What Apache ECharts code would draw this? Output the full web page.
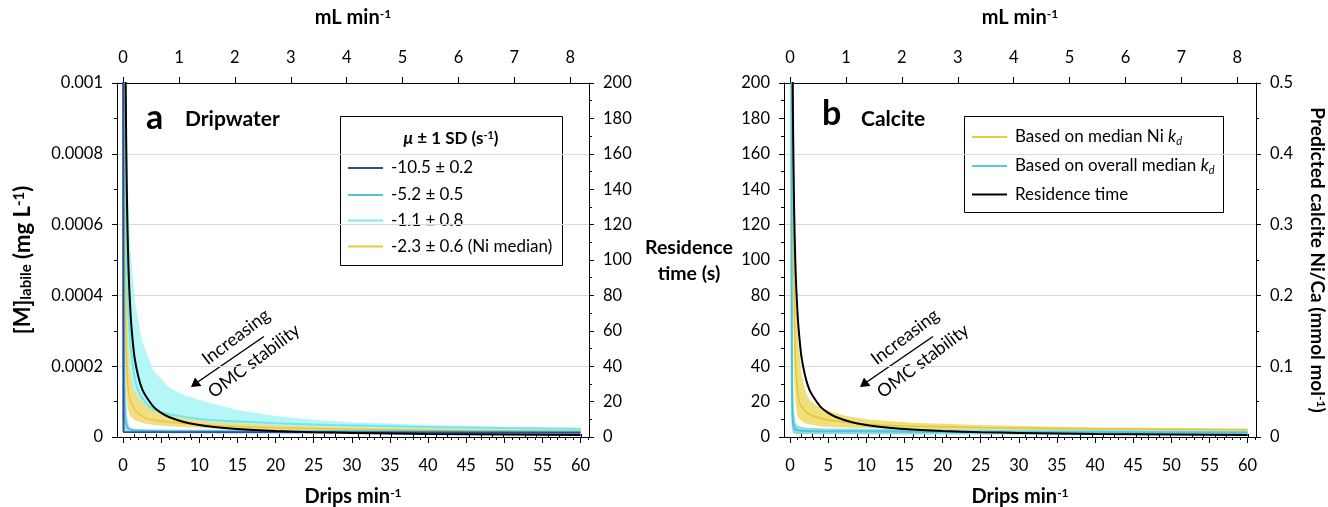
<!DOCTYPE html>
<html>
<head>
<meta charset="utf-8">
<title>Dripwater / Calcite</title>
<script src="https://cdn.jsdelivr.net/npm/echarts@6/dist/echarts.min.js"></script>
<style>
  html, body { margin: 0; padding: 0; background: #fff; }
  #chart { width: 1328px; height: 507px; }
</style>
</head>
<body>
<div id="chart"></div>
<script>
// ---- ticks ----
const dripTicks = [0, 5, 10, 15, 20, 25, 30, 35, 40, 45, 50, 55, 60];
const mlTicks = [0, 1, 2, 3, 4, 5, 6, 7, 8];
const dripMinor = [];
for (let i = 1; i <= 61; i++) if (i % 5) dripMinor.push(i);
const mlMinor = [];
for (let i = 1; i <= 41; i++) if (i % 5) mlMinor.push(+(i * 0.2).toFixed(1));

// ---- residence time (s) vs drips/min, both panels ----
const residence = [[0.3, 230], [0.34, 200], [0.4, 170], [0.5, 136], [0.6, 113], [0.7, 97], [0.8, 85], [1, 68], [1.2, 57],
  [1.5, 45], [2, 34], [2.5, 27], [3, 23], [4, 17], [5, 13.6], [6, 11.3], [8, 8.5], [10, 6.8], [12, 5.7], [15, 4.5],
  [20, 3.4], [25, 2.7], [30, 2.3], [40, 1.7], [50, 1.4], [60, 1.1]];

// ---- panel a: [M]labile (mg/L) ----
const blueLine = [[0.01, 0.0012], [0.025, 0.0003], [0.04, 0.00005], [0.07, 0.000014], [0.2, 0.000012], [60, 0.000012]];

const cyanMidLine = [[0.06, 0.0012], [0.1, 0.0005], [0.15, 0.0002], [0.2, 0.0001], [0.3, 0.00005], [0.5, 0.00003],
  [0.8, 0.000022], [1.5, 0.000019], [5, 0.000017], [20, 0.000016], [60, 0.000015]];
const cyanMidUpper = [[0.12, 0.0012], [0.2, 0.0004], [0.3, 0.00015], [0.5, 0.00006], [0.8, 0.00003], [1.5, 0.000022], [60, 0.000017]];
const cyanMidLower = [[0.03, 0.0012], [0.06, 0.0002], [0.1, 0.00005], [0.2, 0.00002], [0.5, 0.000014], [60, 0.000013]];

const cyanLightLine = [[0.2, 0.0012], [0.3, 0.0008], [0.4, 0.0006], [0.7, 0.00035], [1, 0.00025], [1.5, 0.00017],
  [2, 0.00013], [3, 0.000095], [4, 0.000078], [6, 0.000064], [10, 0.000051], [15, 0.000044], [20, 0.000039],
  [27, 0.000034], [40, 0.000028], [60, 0.000023]];
const cyanLightUpper = [[0.35, 0.0012], [0.45, 0.00095], [0.55, 0.0008], [0.7, 0.00066], [1, 0.00052], [1.57, 0.00038],
  [2.5, 0.00027], [3.9, 0.00019], [6, 0.00014], [8, 0.000118], [11.4, 0.000096], [15, 0.000076], [20, 0.000059],
  [25, 0.000049], [30, 0.000042], [40, 0.000034], [50, 0.000029], [60, 0.000025]];
const cyanLightLower = [[0.09, 0.0012], [0.2, 0.0006], [0.35, 0.00033], [0.5, 0.0002], [0.7, 0.00013], [1, 0.0001],
  [1.5, 0.000078], [2.6, 0.000057], [4, 0.000048], [7, 0.00004], [12, 0.000032], [20, 0.000026], [30, 0.000022],
  [45, 0.000018], [60, 0.000016]];

const yellowLineA = [[0.09, 0.0012], [0.2, 0.0006], [0.35, 0.00033], [0.5, 0.0002], [0.7, 0.00013], [1, 0.0001],
  [1.5, 0.000078], [2.6, 0.000057], [4, 0.000048], [7, 0.00004], [12, 0.000032], [20, 0.000026], [30, 0.000022],
  [45, 0.000018], [60, 0.000016]];
const yellowUpperA = [[0.15, 0.0012], [0.25, 0.0007], [0.35, 0.00055], [0.5, 0.00038], [0.7, 0.00026], [0.9, 0.00019],
  [1.3, 0.00014], [1.8, 0.00012], [2.6, 0.000096], [4, 0.000075], [7, 0.000055], [12, 0.000042], [20, 0.000033],
  [30, 0.000027], [45, 0.000022], [60, 0.00002]];
const yellowLowerA = [[0.05, 0.0012], [0.15, 0.0005], [0.3, 0.0002], [0.45, 0.00012], [0.6, 0.00008], [0.9, 0.00006],
  [1.5, 0.000047], [2.6, 0.000039], [4, 0.000034], [7, 0.000029], [12, 0.000024], [20, 0.00002], [30, 0.000017],
  [45, 0.000015], [60, 0.000014]];

// ---- panel b: predicted calcite Ni/Ca (mmol/mol) ----
const yellowLineB = [[0.35, 0.6], [0.45, 0.3], [0.55, 0.18], [0.7, 0.11], [0.9, 0.075], [1.2, 0.05], [2, 0.036],
  [2.9, 0.03], [5, 0.024], [7.2, 0.021], [10, 0.018], [15, 0.0155], [25, 0.0135], [40, 0.0115], [60, 0.0102]];
const yellowUpperB = [[0.45, 0.6], [0.55, 0.4], [0.74, 0.236], [0.9, 0.17], [1.1, 0.13], [1.5, 0.09], [2, 0.065],
  [2.5, 0.053], [3.5, 0.044], [5, 0.037], [7.2, 0.03], [10, 0.025], [16, 0.02], [25, 0.017], [40, 0.0135], [60, 0.012]];
const yellowLowerB = [[0.3, 0.6], [0.38, 0.3], [0.45, 0.15], [0.55, 0.08], [0.7, 0.05], [0.9, 0.032], [1.2, 0.025],
  [2, 0.019], [4, 0.015], [8, 0.013], [20, 0.011], [40, 0.0095], [60, 0.0088]];

const cyanLineB = [[0.17, 0.6], [0.2, 0.2], [0.25, 0.07], [0.35, 0.025], [0.5, 0.014], [0.8, 0.01], [2, 0.0085],
  [10, 0.008], [25, 0.0072], [60, 0.0062]];
const cyanUpperB = [[0.3, 0.6], [0.35, 0.2], [0.4, 0.08], [0.5, 0.036], [0.7, 0.021], [1, 0.016], [2, 0.013],
  [5, 0.012], [10, 0.0115], [25, 0.0105], [60, 0.0088]];
const cyanLowerB = [[0.05, 0.6], [0.08, 0.2], [0.12, 0.05], [0.2, 0.015], [0.35, 0.006], [0.8, 0.0042], [5, 0.0038],
  [60, 0.003]];

// ---- layout ----
const XMIN = -0.8, XMAX = 61.1, DRIPS_PER_ML = 7.33;
const GRID_A = 117, GRID_B = 784, GRID_TOP = 83, GRID_W = 472, GRID_H = 354;
const FONT = 'Lato, "Open Sans", sans-serif';
const TICK_FS = 16.5;
const black = '#000';

// rich styles for bold axis titles with super/subscripts
function titleRich(size, subSize) {
  return {
    b: { fontSize: size, fontWeight: 'bold', fontFamily: FONT, color: black },
    sup: { fontSize: subSize, fontWeight: 'bold', fontFamily: FONT, color: black, verticalAlign: 'top', padding: [0, 0, 7, 0] },
    sub: { fontSize: subSize, fontWeight: 'bold', fontFamily: FONT, color: black, verticalAlign: 'bottom', padding: [7, 0, 0, 0] }
  };
}
const axisRich = titleRich(20, 12);

function xMajor(grid, pos, min, max, ticks, name, gap, margin) {
  return {
    type: 'value', gridIndex: grid, position: pos, min, max,
    axisLine: { show: true, onZero: false, lineStyle: { color: black } },
    axisTick: { show: true, length: 6, customValues: ticks, lineStyle: { color: black } },
    axisLabel: { customValues: ticks, margin, fontSize: TICK_FS, color: black, fontFamily: FONT },
    splitLine: { show: false },
    name, nameLocation: 'middle', nameGap: gap,
    nameTextStyle: { rich: axisRich }
  };
}
function xMinor(grid, pos, min, max, ticks) {
  return {
    type: 'value', gridIndex: grid, position: pos, min, max,
    axisLine: { show: false },
    axisTick: { show: true, length: 3, customValues: ticks, lineStyle: { color: black } },
    axisLabel: { show: false },
    splitLine: { show: false }
  };
}
function yAxis(grid, pos, max, interval, fmt, split, extra) {
  return Object.assign({
    type: 'value', gridIndex: grid, position: pos, min: 0, max, interval,
    axisLine: { show: true, onZero: false, lineStyle: { color: black } },
    axisTick: { show: true, length: 5, lineStyle: { color: black } },
    minorTick: { show: true, splitNumber: 2, length: 3, lineStyle: { color: black } },
    axisLabel: { margin: 14, fontSize: TICK_FS, color: black, fontFamily: FONT, formatter: fmt },
    splitLine: { show: split, lineStyle: { color: '#d9d9d9', width: 1 } }
  }, extra || {});
}
const fmtSmall = v => (v === 0 ? '0' : String(+v.toFixed(4)));
const fmtInt = v => String(Math.round(v));
const fmtTenth = v => (v === 0 ? '0' : String(+v.toFixed(1)));

function band(upper, lower, color, xi, yi, z) {
  return {
    type: 'custom', xAxisIndex: xi, yAxisIndex: yi, z, silent: true, clip: true,
    data: [[0, 0]],
    renderItem: (params, api) => ({
      type: 'polygon',
      shape: { points: upper.concat(lower.slice().reverse()).map(p => api.coord(p)) },
      style: { fill: color, stroke: null }
    })
  };
}
function curve(data, color, width, xi, yi, z, smooth) {
  return {
    type: 'line', data, xAxisIndex: xi, yAxisIndex: yi, z, silent: true,
    showSymbol: false, symbol: 'none', smooth: smooth === undefined ? 0.25 : smooth,
    lineStyle: { color, width }, clip: true
  };
}

// ---- annotations and legends (graphic) ----
function arrowNote(dx) {
  const ang = 37 * Math.PI / 180;
  return [
    { type: 'line', shape: { x1: 264 + dx, y1: 336.5, x2: 197 + dx, y2: 382.5 }, style: { stroke: black, lineWidth: 1.5 } },
    { type: 'polygon', shape: { points: [[191 + dx, 387], [195 + dx, 377.5], [201.5 + dx, 386]] }, style: { fill: black } },
    { type: 'text', x: 236 + dx, y: 337, rotation: ang,
      style: { text: 'Increasing', font: '18px ' + FONT, fill: black, align: 'center', verticalAlign: 'middle' } },
    { type: 'text', x: 254 + dx, y: 361, rotation: ang,
      style: { text: 'OMC stability', font: '18px ' + FONT, fill: black, align: 'center', verticalAlign: 'middle' } }
  ];
}
function legendLine(x1, x2, y, color) {
  return { type: 'line', shape: { x1, y1: y, x2, y2: y }, style: { stroke: color, lineWidth: 2 } };
}
function legendText(x, y, text, rich) {
  return { type: 'text', x, y, style: { text, rich, font: '17px ' + FONT, fill: black, align: 'left', verticalAlign: 'middle' } };
}

const legendA = ['-10.5 ± 0.2', '-5.2 ± 0.5', '-1.1 ± 0.8', '-2.3 ± 0.6 (Ni median)'];
const legendAColors = ['#2f4b9b', '#55c3d8', '#7ee9ef', '#ebc83e'];
const legendARows = [168, 195, 220.5, 246.5];

const legendB = ['{t|Based on median Ni }{k|k}{d|d}', '{t|Based on overall median }{k|k}{d|d}', '{t|Residence time}'];
const legendBColors = ['#ebc83e', '#5ccbe0', black];
const legendBRows = [137, 166, 194.5];
const kRich = {
  t: { fontSize: 17, fontFamily: FONT, color: black },
  k: { fontSize: 17, fontFamily: FONT, color: black, fontStyle: 'italic' },
  d: { fontSize: 11, fontFamily: FONT, color: black, fontStyle: 'italic', verticalAlign: 'bottom', padding: [8, 0, 0, 0] }
};

const legendTitleRich = Object.assign(
  { mu: { fontSize: 17, fontWeight: 'bold', fontStyle: 'italic', fontFamily: FONT, color: black } },
  titleRich(17, 11));

const graphics = [
  // panel letters
  { type: 'text', x: 146, y: 118, style: { text: 'a', font: 'bold 34px ' + FONT, fill: black, verticalAlign: 'middle' } },
  { type: 'text', x: 185, y: 119, style: { text: 'Dripwater', font: 'bold 21px ' + FONT, fill: black, verticalAlign: 'middle' } },
  { type: 'text', x: 822, y: 114, style: { text: 'b', font: 'bold 34px ' + FONT, fill: black, verticalAlign: 'middle' } },
  { type: 'text', x: 861, y: 119, style: { text: 'Calcite', font: 'bold 21px ' + FONT, fill: black, verticalAlign: 'middle' } },
  // shared residence-time axis title
  { type: 'text', x: 689, y: 261, style: { text: 'Residence\ntime (s)', font: 'bold 19.5px ' + FONT, fill: black,
    align: 'center', verticalAlign: 'middle', lineHeight: 26 } },
  ...arrowNote(0),
  ...arrowNote(669),
  // legend a
  { type: 'rect', shape: { x: 340.5, y: 116.5, width: 222, height: 149 }, style: { fill: '#fff', stroke: black, lineWidth: 1 } },
  { type: 'text', x: 451, y: 139, style: { text: '{mu|μ}{b| ± 1 SD (s}{sup|-1}{b|)}', align: 'center', verticalAlign: 'middle',
    rich: legendTitleRich } },
  ...legendA.flatMap((t, i) => [legendLine(348, 383, legendARows[i], legendAColors[i]), legendText(391, legendARows[i], t)]),
  // legend b
  { type: 'rect', shape: { x: 964.5, y: 116.5, width: 259, height: 96 }, style: { fill: '#fff', stroke: black, lineWidth: 1 } },
  ...legendB.flatMap((t, i) => [legendLine(972, 1007, legendBRows[i], legendBColors[i]), legendText(1015, legendBRows[i], t, kRich)])
];

const option = {
  backgroundColor: '#fff',
  animation: false,
  textStyle: { fontFamily: FONT },
  grid: [
    { left: GRID_A, top: GRID_TOP, width: GRID_W, height: GRID_H, outerBoundsMode: 'none', containLabel: false },
    { left: GRID_B, top: GRID_TOP, width: GRID_W, height: GRID_H, outerBoundsMode: 'none', containLabel: false }
  ],
  xAxis: [
    xMajor(0, 'bottom', XMIN, XMAX, dripTicks, '{b|Drips min}{sup|-1}', 50, 20),
    xMinor(0, 'bottom', XMIN, XMAX, dripMinor),
    xMajor(0, 'top', XMIN / DRIPS_PER_ML, XMAX / DRIPS_PER_ML, mlTicks, '{b|mL min}{sup|-1}', 55, 17),
    xMinor(0, 'top', XMIN / DRIPS_PER_ML, XMAX / DRIPS_PER_ML, mlMinor),
    xMajor(1, 'bottom', XMIN, XMAX, dripTicks, '{b|Drips min}{sup|-1}', 50, 20),
    xMinor(1, 'bottom', XMIN, XMAX, dripMinor),
    xMajor(1, 'top', XMIN / DRIPS_PER_ML, XMAX / DRIPS_PER_ML, mlTicks, '{b|mL min}{sup|-1}', 55, 17),
    xMinor(1, 'top', XMIN / DRIPS_PER_ML, XMAX / DRIPS_PER_ML, mlMinor)
  ],
  yAxis: [
    yAxis(0, 'left', 0.001, 0.0002, fmtSmall, true, {
      name: '{b|[M]}{sub|labile}{b| (mg L}{sup|-1}{b|)}', nameLocation: 'middle', nameGap: 83, nameRotate: 90,
      nameTextStyle: { rich: titleRich(22, 15) }
    }),
    yAxis(0, 'right', 200, 20, fmtInt, false),
    yAxis(1, 'left', 200, 20, fmtInt, false),
    yAxis(1, 'right', 0.5, 0.1, fmtTenth, true, {
      name: '{b|Predicted calcite Ni/Ca (mmol mol}{sup|-1}{b|)}', nameLocation: 'middle', nameGap: 52, nameRotate: -90,
      nameTextStyle: { rich: titleRich(19, 12) }
    })
  ],
  series: [
    // panel a
    band(cyanLightUpper, cyanLightLower, '#b5f6f6', 0, 0, 1),
    band(yellowUpperA, yellowLowerA, '#f1df86', 0, 0, 2),
    band(cyanMidUpper, cyanMidLower, '#a9e3ee', 0, 0, 2),
    curve(cyanLightLine, '#72e6ec', 2, 0, 0, 3),
    curve(yellowLineA, '#e9c83c', 1.5, 0, 0, 3),
    curve(cyanMidLine, '#55c3d8', 2, 0, 0, 4),
    curve(blueLine, '#2f4b9b', 2, 0, 0, 4, false),
    curve(residence, black, 2, 0, 1, 5),
    // panel b
    band(yellowUpperB, yellowLowerB, '#f0e07c', 4, 3, 1),
    band(cyanUpperB, cyanLowerB, '#8fdbe8', 4, 3, 2),
    curve(yellowLineB, '#e6c53a', 1.5, 4, 3, 3),
    curve(cyanLineB, '#4cc3d8', 2, 4, 3, 3),
    curve(residence, black, 2, 4, 2, 5)
  ],
  graphic: graphics
};

const chart = echarts.init(document.getElementById('chart'), null, { renderer: 'canvas' });
chart.setOption(option);
window.addEventListener('resize', () => chart.resize());
</script>
</body>
</html>
